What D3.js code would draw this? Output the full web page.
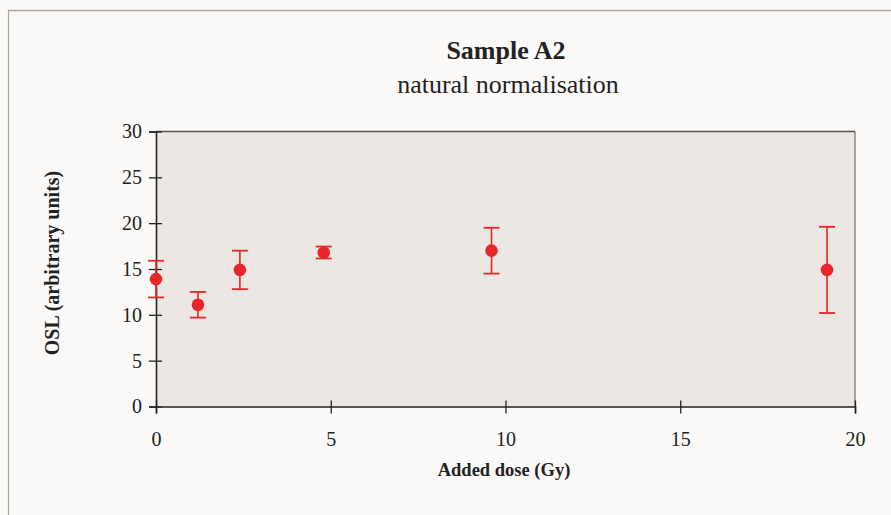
<!DOCTYPE html>
<html>
<head>
<meta charset="utf-8">
<script src="https://cdn.jsdelivr.net/npm/d3@7"></script>
<style>
  html, body { margin: 0; padding: 0; background: #fbfaf8; }
  svg { display: block; }
  .tick text { font-family: "Liberation Serif", serif; font-size: 20px; fill: #222; }
</style>
</head>
<body>
<script>
var width = 891;
var height = 515;

// data
var doses = [0, 1.2, 2.4, 4.8, 9.6, 19.2];
var osl = [13.9, 11.1, 14.9, 16.8, 17.0, 14.9];
var errs = [2.0, 1.4, 2.1, 0.65, 2.5, 4.7];
var xTicks = [0, 5, 10, 15, 20];
var yTicks = [0, 5, 10, 15, 20, 25, 30];

var red = "#e8262a";

var svg = d3.select("body").append("svg")
    .attr("width", width)
    .attr("height", height);

// outer frame (top and left edges visible in the scan)
svg.append("line")
    .attr("x1", 8).attr("x2", width)
    .attr("y1", 10.5).attr("y2", 10.5)
    .attr("stroke", "#b4a29e").attr("stroke-width", 1.5);
svg.append("line")
    .attr("x1", 8.5).attr("x2", 8.5)
    .attr("y1", 10).attr("y2", height)
    .attr("stroke", "#a9a5a3").attr("stroke-width", 1.2);

// scales
var xScale = d3.scaleLinear().domain([0, 20]).range([156, 855]);
var yScale = d3.scaleLinear().domain([0, 30]).range([406.5, 131.5]);

// plot area
svg.append("rect")
    .attr("x", xScale(0))
    .attr("y", yScale(30))
    .attr("width", xScale(20) - xScale(0))
    .attr("height", yScale(0) - yScale(30))
    .attr("fill", "#ede7e4");

svg.append("line")
    .attr("x1", xScale(0)).attr("x2", xScale(20))
    .attr("y1", yScale(30)).attr("y2", yScale(30))
    .attr("stroke", "#555").attr("stroke-width", 1.3);
svg.append("line")
    .attr("x1", xScale(20)).attr("x2", xScale(20))
    .attr("y1", yScale(30)).attr("y2", yScale(0))
    .attr("stroke", "#777").attr("stroke-width", 1.3);

// axes with ticks crossing the axis line
var xAxis = d3.axisBottom(xScale).tickValues(xTicks).tickSize(7).tickPadding(18);
var yAxis = d3.axisLeft(yScale).tickValues(yTicks).tickSize(7).tickPadding(7);

var gx = svg.append("g")
    .attr("transform", "translate(0," + yScale(0) + ")")
    .call(xAxis);
gx.selectAll(".tick line").attr("y1", -6);
var gy = svg.append("g")
    .attr("transform", "translate(" + xScale(0) + ",0)")
    .call(yAxis);
gy.selectAll(".tick line").attr("x1", 6);

[gx, gy].forEach(function(g) {
  g.attr("font-family", "Liberation Serif, serif").attr("font-size", 20);
  g.select(".domain").attr("stroke", "#222").attr("stroke-width", 1.6);
  g.selectAll(".tick line").attr("stroke", "#222").attr("stroke-width", 1.3);
});

// error bars
var bars = svg.append("g");
doses.forEach(function(d, i) {
  var x = xScale(d);
  var y1 = yScale(osl[i] + errs[i]);
  var y2 = yScale(osl[i] - errs[i]);
  bars.append("line")
      .attr("x1", x).attr("x2", x).attr("y1", y1).attr("y2", y2)
      .attr("stroke", red).attr("stroke-width", 1.6);
  [y1, y2].forEach(function(y) {
    bars.append("line")
        .attr("x1", x - 8).attr("x2", x + 8).attr("y1", y).attr("y2", y)
        .attr("stroke", red).attr("stroke-width", 1.8);
  });
});

// points
svg.selectAll("circle.pt")
  .data(doses)
  .enter().append("circle")
    .attr("class", "pt")
    .attr("cx", function(d) { return xScale(d); })
    .attr("cy", function(d, i) { return yScale(osl[i]); })
    .attr("r", 6.3)
    .attr("fill", red);

// titles
svg.append("text")
    .attr("x", 506).attr("y", 59)
    .attr("text-anchor", "middle")
    .attr("font-family", "Liberation Serif, serif")
    .attr("font-weight", "bold")
    .attr("font-size", 26)
    .attr("fill", "#222")
    .text("Sample A2");
svg.append("text")
    .attr("x", 508).attr("y", 93)
    .attr("text-anchor", "middle")
    .attr("font-family", "Liberation Serif, serif")
    .attr("font-size", 26)
    .attr("fill", "#222")
    .text("natural normalisation");

svg.append("text")
    .attr("x", 504).attr("y", 476)
    .attr("text-anchor", "middle")
    .attr("font-family", "Liberation Serif, serif")
    .attr("font-weight", "bold")
    .attr("font-size", 18.5)
    .attr("fill", "#222")
    .text("Added dose (Gy)");

svg.append("text")
    .attr("transform", "translate(59,263) rotate(-90)")
    .attr("text-anchor", "middle")
    .attr("font-family", "Liberation Serif, serif")
    .attr("font-weight", "bold")
    .attr("font-size", 20)
    .attr("fill", "#222")
    .text("OSL  (arbitrary units)");
</script>
</body>
</html>
